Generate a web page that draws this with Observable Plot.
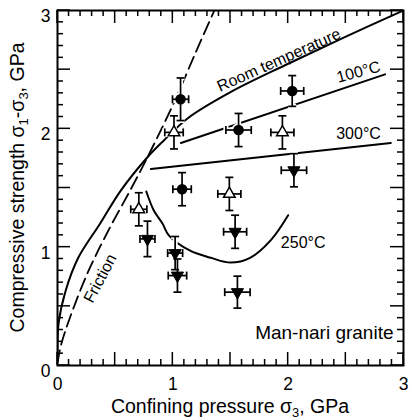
<!DOCTYPE html>
<html><head><meta charset="utf-8">
<script src="https://cdn.jsdelivr.net/npm/d3@7"></script>
<script src="https://cdn.jsdelivr.net/npm/@observablehq/plot@0.6"></script>
<style>body{margin:0;background:#fff} svg{font-family:"Liberation Sans",Arial,sans-serif}</style>
</head><body><div id="chart"></div>
<script>
// ---- curves (confining pressure GPa, strength GPa) ----
const friction = [[0.0,0.02],[0.03,0.17],[0.11,0.41],[0.26,0.78],[0.43,1.12],[0.63,1.48],[0.78,1.76],[1.0,2.2],[1.2,2.65],[1.36,3.0]];
const roomTemp = [[0.0,0.12],[0.01,0.36],[0.07,0.63],[0.18,0.91],[0.37,1.20],[0.55,1.48],[0.78,1.76],[0.92,1.90],[1.13,2.09],[1.5,2.31],[2.0,2.55],[2.5,2.78],[3.0,3.0]];
const line100 = [[1.07,1.88],[2.84,2.46]];
const line300 = [[0.81,1.66],[2.89,1.88]];
const line250 = [[0.77,1.47],[0.835,1.31],[0.91,1.20],[0.965,1.10],[1.15,0.97],[1.33,0.91],[1.5,0.87],[1.67,0.91],[1.85,1.06],[2.0,1.27]];

// ---- data points: x, y, x-error, y-error ----
const filledCircles = [
  {x:1.067,y:2.25,ex:0.07,ey:0.18},
  {x:2.035,y:2.32,ex:0.10,ey:0.13},
  {x:1.57,y:1.99,ex:0.11,ey:0.14},
  {x:1.08,y:1.49,ex:0.08,ey:0.14}
];
const openTriangles = [
  {x:1.01,y:1.97,ex:0.08,ey:0.14},
  {x:1.95,y:1.97,ex:0.10,ey:0.14},
  {x:1.49,y:1.45,ex:0.10,ey:0.14},
  {x:0.705,y:1.32,ex:0.07,ey:0.14}
];
const downTriangles = [
  {x:2.05,y:1.65,ex:0.11,ey:0.14},
  {x:1.54,y:1.13,ex:0.10,ey:0.14},
  {x:1.56,y:0.62,ex:0.11,ey:0.135},
  {x:1.02,y:0.95,ex:0.065,ey:0.14},
  {x:1.04,y:0.76,ex:0.08,ey:0.14},
  {x:0.78,y:1.07,ex:0.065,ey:0.15}
];

// ---- annotations ----
const labelText = ["Room temperature","100°C","300°C","250°C","Friction"];
const labelX = [1.92, 2.61, 2.61, 2.13, 0.37];
const labelY = [2.58, 2.48, 1.96, 1.035, 0.735];

// ---- ticks ----
const tickLabels = [0,1,2,3];
const majorTicks = [0,0.5,1,1.5,2,2.5,3];
const minorTicks = [0.1,0.2,0.3,0.4,0.6,0.7,0.8,0.9,1.1,1.2,1.3,1.4,1.6,1.7,1.8,1.9,2.1,2.2,2.3,2.4,2.6,2.7,2.8,2.9];

const labelAngles = [-24,-15,0,0,-62];
const allPts = [...filledCircles, ...openTriangles, ...downTriangles];
const labels = labelText.map((t,i)=>({t, x:labelX[i], y:labelY[i], a:labelAngles[i]}));

const hCap = {draw(ctx, size){const r=Math.sqrt(size/Math.PI); ctx.moveTo(-r,0); ctx.lineTo(r,0);}};
const vCap = {draw(ctx, size){const r=Math.sqrt(size/Math.PI); ctx.moveTo(0,-r); ctx.lineTo(0,r);}};

function errorMarks(color, w){
  return [
    Plot.link(allPts, {x1:"x", x2:"x", y1:d=>d.y-d.ey, y2:d=>d.y+d.ey, stroke:color, strokeWidth:w}),
    Plot.link(allPts, {x1:d=>d.x-d.ex, x2:d=>d.x+d.ex, y1:"y", y2:"y", stroke:color, strokeWidth:w}),
    Plot.dot(allPts, {x:"x", y:d=>d.y+d.ey, symbol:hCap, r:4, fill:"none", stroke:color, strokeWidth:w}),
    Plot.dot(allPts, {x:"x", y:d=>d.y-d.ey, symbol:hCap, r:4, fill:"none", stroke:color, strokeWidth:w}),
    Plot.dot(allPts, {x:d=>d.x-d.ex, y:"y", symbol:vCap, r:4, fill:"none", stroke:color, strokeWidth:w}),
    Plot.dot(allPts, {x:d=>d.x+d.ex, y:"y", symbol:vCap, r:4, fill:"none", stroke:color, strokeWidth:w})
  ];
}

const W = 414, H = 419, mL = 57, mR = 11, mT = 10, mB = 54;

const P = d=>d[0], Q = d=>d[1];
const plot = Plot.plot({
  width:W, height:H,
  marginLeft:mL, marginRight:mR, marginTop:mT, marginBottom:mB,
  x:{domain:[0,3]}, y:{domain:[0,3]},
  style:{fontFamily:"Liberation Sans, Arial, sans-serif", background:"white", color:"black"},
  marks:[
    Plot.line(friction, {x:P, y:Q, stroke:"black", strokeWidth:1.8, strokeDasharray:"13,6", curve:"catmull-rom", clip:true}),
    Plot.line(roomTemp, {x:P, y:Q, stroke:"black", strokeWidth:2, curve:"catmull-rom", clip:true}),
    Plot.line(line100, {x:P, y:Q, stroke:"black", strokeWidth:2}),
    Plot.line(line300, {x:P, y:Q, stroke:"black", strokeWidth:2}),
    Plot.line(line250, {x:P, y:Q, stroke:"black", strokeWidth:2, curve:"catmull-rom"}),
    ...errorMarks("white", 5),
    Plot.dot(filledCircles, {x:"x", y:"y", r:7, fill:"white"}),
    Plot.dot(openTriangles, {x:"x", y:"y", symbol:"triangle", r:6, fill:"white"}),
    Plot.dot(downTriangles, {x:"x", y:"y", symbol:"triangle", rotate:180, r:6, fill:"white"}),
    ...errorMarks("black", 1.7),
    Plot.dot(filledCircles, {x:"x", y:"y", r:5.3, fill:"black"}),
    Plot.dot(openTriangles, {x:"x", y:"y", symbol:"triangle", r:4.3, fill:"white", stroke:"black", strokeWidth:1.5}),
    Plot.dot(downTriangles, {x:"x", y:"y", symbol:"triangle", rotate:180, r:4.5, fill:"black", stroke:"black", strokeWidth:1}),
    Plot.text(labels, {x:"x", y:"y", text:"t", rotate:"a", fontSize:16, fill:"black"}),
    Plot.text(["Man-nari granite"], {frameAnchor:"bottom-right", dx:-10, dy:-27, textAnchor:"end", fontSize:19, fill:"black"}),
    Plot.axisX({anchor:"bottom", ticks:tickLabels, tickSize:0, tickPadding:12, fontSize:17.5, label:null, tickFormat:d3.format("d")}),
    Plot.axisY({anchor:"left", ticks:tickLabels, tickSize:0, tickPadding:7, dy:6, fontSize:17.5, label:null, tickFormat:d3.format("d")}),
    Plot.frame({stroke:"black", strokeWidth:2})
  ]
});

const svg = d3.select(plot);
const fx = plot.scale("x"), fy = plot.scale("y");
const x0 = fx.apply(0), x3 = fx.apply(3), y0 = fy.apply(0), y3 = fy.apply(3);

// inward ticks on all four sides, positioned through Plot's own scales
const tg = svg.append("g").attr("stroke","black").attr("stroke-width",1.5).attr("stroke-linecap","butt");
function drawTicks(ticks, len){
  for (const t of ticks){
    const px = fx.apply(t), py = fy.apply(t);
    tg.append("line").attr("x1",px).attr("x2",px).attr("y1",y0).attr("y2",y0-len);
    tg.append("line").attr("x1",px).attr("x2",px).attr("y1",y3).attr("y2",y3+len);
    tg.append("line").attr("y1",py).attr("y2",py).attr("x1",x0).attr("x2",x0+len);
    tg.append("line").attr("y1",py).attr("y2",py).attr("x1",x3).attr("x2",x3-len);
  }
}
drawTicks(minorTicks, 6);
drawTicks(majorTicks, 13);

const cx = (x0+x3)/2, cy = (y0+y3)/2;
const xt = svg.append("text").attr("x", cx).attr("y", 413).attr("text-anchor","middle").attr("font-size",19.5).attr("fill","black");
xt.append("tspan").text("Confining pressure σ");
xt.append("tspan").attr("dy",4).attr("font-size",13).text("3");
xt.append("tspan").attr("dy",-4).text(", GPa");
const yt = svg.append("text").attr("transform",`translate(24,${cy}) rotate(-90)`).attr("text-anchor","middle").attr("font-size",19.5).attr("fill","black");
yt.append("tspan").text("Compressive strength σ");
yt.append("tspan").attr("dy",4).attr("font-size",13).text("1");
yt.append("tspan").attr("dy",-4).text("-σ");
yt.append("tspan").attr("dy",4).attr("font-size",13).text("3");
yt.append("tspan").attr("dy",-4).text(", GPa");
document.getElementById("chart").append(plot);
</script>
</body></html>
